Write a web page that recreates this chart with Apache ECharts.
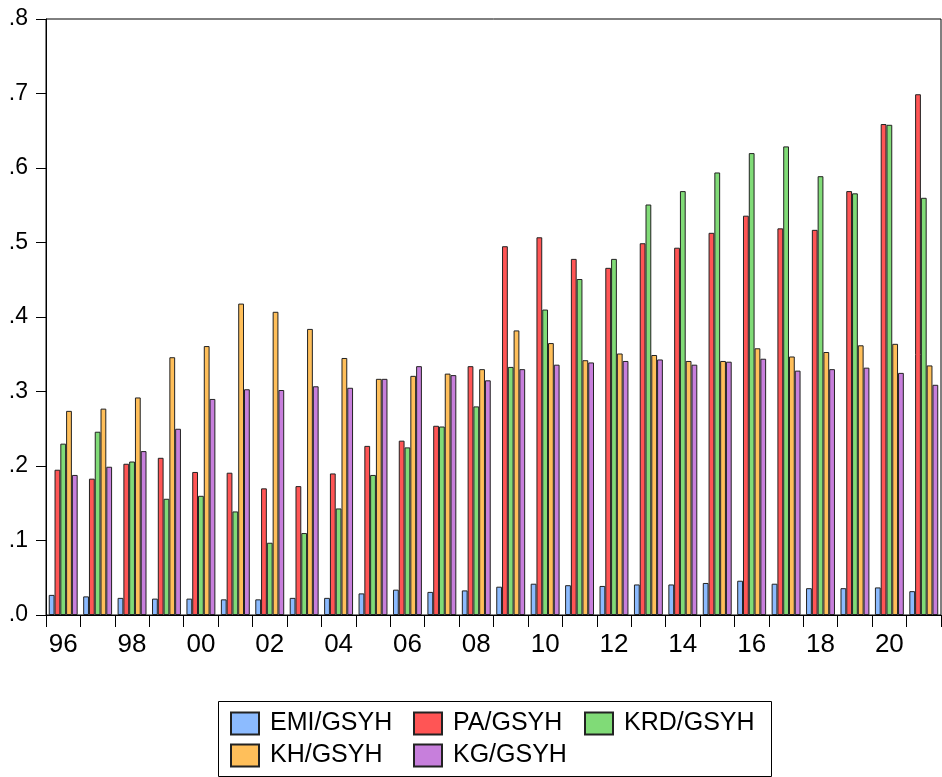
<!DOCTYPE html>
<html>
<head>
<meta charset="utf-8">
<script src="https://cdn.jsdelivr.net/npm/echarts@6/dist/echarts.min.js"></script>
<style>
html,body{margin:0;padding:0;background:#fff;}
#c{width:942px;height:777px;}
</style>
</head>
<body>
<div id="c"></div>
<script>
const years = ['1996','1997','1998','1999','2000','2001','2002','2003','2004','2005','2006','2007','2008','2009','2010','2011','2012','2013','2014','2015','2016','2017','2018','2019','2020','2021'];
const seriesNames = ['EMI/GSYH','PA/GSYH','KRD/GSYH','KH/GSYH','KG/GSYH'];
const emi = [0.027,0.025,0.023,0.022,0.022,0.021,0.021,0.023,0.023,0.029,0.034,0.031,0.033,0.038,0.042,0.040,0.039,0.041,0.041,0.043,0.046,0.042,0.036,0.036,0.037,0.032];
const pa  = [0.195,0.183,0.203,0.211,0.192,0.191,0.170,0.173,0.190,0.227,0.234,0.254,0.334,0.495,0.507,0.478,0.466,0.499,0.493,0.513,0.536,0.519,0.517,0.569,0.659,0.699];
const krd = [0.230,0.246,0.206,0.156,0.160,0.139,0.097,0.110,0.143,0.188,0.225,0.253,0.280,0.333,0.410,0.451,0.478,0.551,0.569,0.594,0.620,0.629,0.589,0.566,0.658,0.560];
const kh  = [0.274,0.277,0.292,0.346,0.361,0.418,0.407,0.384,0.345,0.317,0.321,0.324,0.330,0.382,0.365,0.342,0.351,0.349,0.341,0.341,0.358,0.347,0.353,0.362,0.364,0.335];
const kg  = [0.188,0.199,0.220,0.250,0.290,0.303,0.302,0.307,0.305,0.317,0.334,0.322,0.315,0.330,0.336,0.339,0.341,0.343,0.336,0.340,0.344,0.328,0.330,0.332,0.325,0.309];
const colors = ['#8CBBFF','#FF5555','#80DB77','#FFBF5A','#C77FDC'];
const values = [emi, pa, krd, kh, kg];

const FONT = "'Liberation Sans', Arial, sans-serif";
const chart = echarts.init(document.getElementById('c'), null, {renderer:'canvas'});

const legendPos = [
  {left:230, top:711},
  {left:413, top:711},
  {left:584, top:711},
  {left:230, top:743},
  {left:413, top:743}
];

const option = {
  animation: false,
  backgroundColor: '#fff',
  grid: {left:46, right:1, top:19, bottom:162, show:true, borderColor:'#000', borderWidth:1},
  xAxis: {
    type:'category',
    data: years,
    axisLine:{show:true, lineStyle:{color:'#000', width:1}},
    axisTick:{show:true, interval:0, length:12, lineStyle:{color:'#000'}},
    axisLabel:{interval:1, fontSize:26, fontFamily:FONT, color:'#000', margin:17,
      formatter: v => v.slice(2)},
    splitLine:{show:false}
  },
  yAxis: {
    type:'value', min:0, max:0.8, interval:0.1,
    axisLine:{show:true, lineStyle:{color:'#000', width:1}},
    axisTick:{show:true, length:10, lineStyle:{color:'#000'}},
    axisLabel:{fontSize:23, fontFamily:FONT, color:'#000', margin:18,
      formatter: v => v.toFixed(1).replace(/^0/, '')},
    splitLine:{show:false}
  },
  legend: seriesNames.map((n,i)=>({
    data:[n], left:legendPos[i].left, top:legendPos[i].top, orient:'horizontal',
    itemWidth:28, itemHeight:22, icon:'rect', padding:0,
    textStyle:{fontSize:25, lineHeight:22, fontFamily:FONT, color:'#000', padding:[0,0,0,6]},
    selectedMode:false
  })),
  graphic: [{
    type:'rect', left:216, top:699, shape:{x:0.5, y:0.5, width:553, height:75},
    style:{fill:'none', stroke:'#000', lineWidth:1}, silent:true
  }],
  series: seriesNames.map((n,i)=>({
    name:n, type:'bar', data:values[i],
    barGap:'0%', barCategoryGap:'16%',
    itemStyle:{color:colors[i], borderColor:'#222', borderWidth:1}
  }))
};
chart.setOption(option);
</script>
</body>
</html>
